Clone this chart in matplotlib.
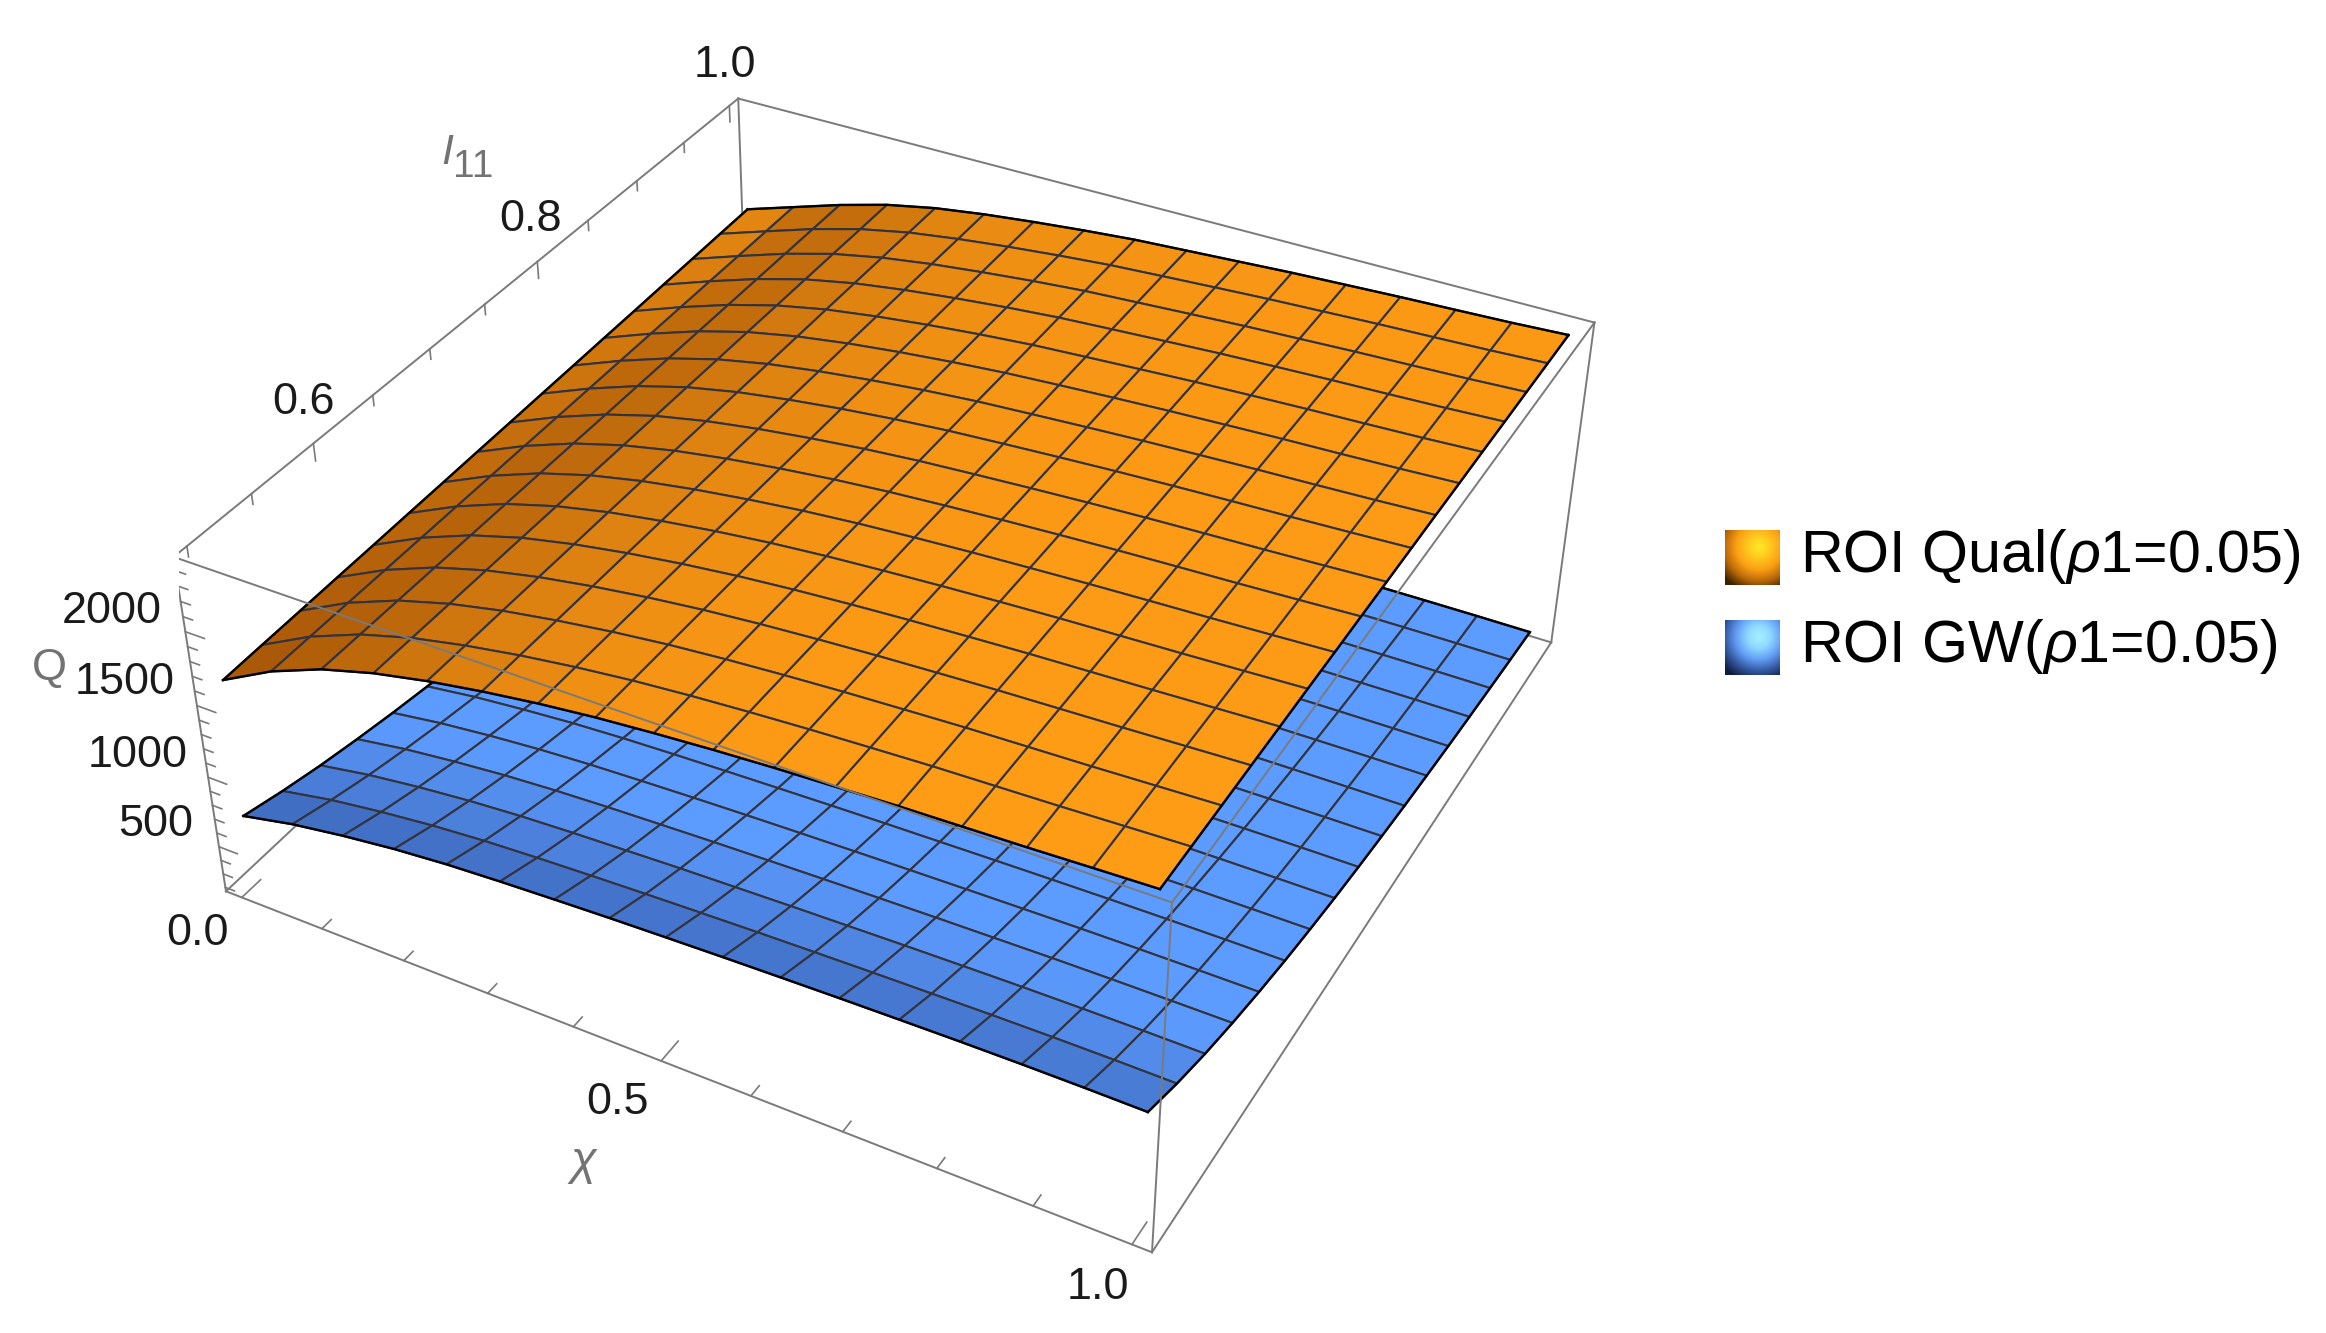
import numpy as np
import matplotlib
matplotlib.use('Agg')
import matplotlib.pyplot as plt
from matplotlib.colors import LinearSegmentedColormap
from mpl_toolkits.mplot3d import proj3d

plt.rcParams['font.family'] = ['Liberation Sans', 'DejaVu Sans']
plt.rcParams['mathtext.fontset'] = 'custom'
plt.rcParams['mathtext.rm'] = 'Liberation Sans'
plt.rcParams['mathtext.it'] = 'Liberation Sans:italic'

# Surface nodes: 17 values of chi across, 17 values of I11 down.
chi_nodes = [0, 1/16, 2/16, 3/16, 4/16, 5/16, 6/16, 7/16, 8/16, 9/16, 10/16, 11/16, 12/16, 13/16, 14/16, 15/16, 1]
i11_nodes = [0.5, 0.53125, 0.5625, 0.59375, 0.625, 0.65625, 0.6875, 0.71875, 0.75, 0.78125, 0.8125, 0.84375,
             0.875, 0.90625, 0.9375, 0.96875, 1.0]

roi_qual = [
    [1640, 1825, 1965, 2065, 2140, 2200, 2250, 2290, 2320, 2345, 2365, 2380, 2395, 2405, 2415, 2428, 2440],
    [1648, 1828, 1966, 2066, 2140, 2200, 2249, 2289, 2319, 2343, 2363, 2379, 2394, 2404, 2414, 2427, 2440],
    [1655, 1831, 1967, 2066, 2141, 2199, 2248, 2288, 2318, 2342, 2362, 2378, 2393, 2403, 2413, 2426, 2439],
    [1663, 1833, 1968, 2067, 2141, 2199, 2247, 2286, 2316, 2340, 2360, 2376, 2391, 2402, 2413, 2426, 2439],
    [1670, 1836, 1969, 2068, 2141, 2199, 2246, 2285, 2315, 2339, 2359, 2375, 2390, 2401, 2412, 2425, 2438],
    [1678, 1839, 1970, 2068, 2142, 2198, 2245, 2284, 2314, 2337, 2357, 2374, 2389, 2400, 2411, 2424, 2438],
    [1685, 1842, 1971, 2069, 2142, 2198, 2244, 2283, 2313, 2336, 2356, 2372, 2387, 2399, 2410, 2423, 2437],
    [1693, 1845, 1972, 2069, 2142, 2198, 2243, 2281, 2311, 2334, 2354, 2371, 2386, 2398, 2409, 2422, 2437],
    [1700, 1847, 1972, 2070, 2142, 2197, 2242, 2280, 2310, 2332, 2352, 2370, 2385, 2397, 2408, 2421, 2436],
    [1708, 1850, 1973, 2071, 2143, 2197, 2242, 2279, 2309, 2331, 2351, 2369, 2384, 2397, 2408, 2421, 2436],
    [1715, 1853, 1974, 2071, 2143, 2197, 2241, 2278, 2308, 2329, 2349, 2367, 2382, 2396, 2407, 2420, 2436],
    [1723, 1856, 1975, 2072, 2143, 2197, 2240, 2276, 2306, 2328, 2348, 2366, 2381, 2395, 2406, 2419, 2435],
    [1730, 1859, 1976, 2072, 2144, 2196, 2239, 2275, 2305, 2326, 2346, 2365, 2380, 2394, 2405, 2418, 2435],
    [1738, 1862, 1977, 2073, 2144, 2196, 2238, 2274, 2304, 2325, 2345, 2364, 2379, 2393, 2404, 2417, 2434],
    [1745, 1864, 1978, 2074, 2144, 2196, 2237, 2273, 2303, 2323, 2343, 2362, 2377, 2392, 2404, 2417, 2434],
    [1753, 1867, 1979, 2074, 2145, 2195, 2236, 2271, 2301, 2322, 2342, 2361, 2376, 2391, 2403, 2416, 2433],
    [1760, 1870, 1980, 2075, 2145, 2195, 2235, 2270, 2300, 2320, 2340, 2360, 2375, 2390, 2402, 2415, 2433],
]

roi_gw = [
    [686, 764, 820, 865, 897, 918, 935, 950, 962, 973, 982, 990, 996, 1001, 1003, 1002, 998],
    [615, 685, 735, 775, 804, 823, 838, 851, 862, 872, 880, 887, 892, 897, 899, 898, 894],
    [554, 617, 663, 699, 725, 742, 755, 768, 777, 786, 793, 800, 805, 809, 810, 810, 806],
    [503, 560, 601, 634, 657, 673, 685, 696, 705, 713, 720, 726, 730, 734, 735, 734, 732],
    [458, 510, 548, 578, 599, 613, 625, 635, 643, 650, 656, 661, 665, 669, 670, 669, 667],
    [419, 467, 501, 529, 548, 561, 571, 580, 588, 595, 600, 605, 609, 612, 613, 612, 610],
    [386, 429, 461, 486, 504, 516, 525, 534, 541, 547, 552, 556, 560, 563, 564, 563, 561],
    [355, 396, 425, 448, 465, 476, 484, 492, 498, 504, 509, 513, 516, 519, 520, 519, 517],
    [329, 367, 394, 415, 431, 441, 449, 456, 462, 467, 471, 475, 478, 480, 481, 481, 479],
    [306, 341, 366, 386, 400, 409, 417, 424, 429, 434, 438, 442, 444, 446, 447, 447, 445],
    [285, 317, 340, 359, 372, 381, 388, 394, 399, 404, 408, 411, 413, 415, 416, 416, 414],
    [266, 296, 318, 336, 348, 356, 363, 369, 373, 378, 381, 384, 386, 388, 389, 389, 387],
    [249, 277, 298, 314, 326, 333, 339, 345, 349, 353, 356, 359, 362, 363, 364, 364, 362],
    [234, 261, 280, 295, 306, 313, 319, 324, 328, 332, 335, 338, 340, 341, 342, 342, 340],
    [220, 245, 263, 278, 288, 295, 300, 305, 309, 312, 315, 318, 320, 321, 322, 322, 320],
    [207, 231, 248, 261, 271, 277, 282, 287, 291, 294, 297, 299, 301, 302, 303, 303, 301],
    [196, 218, 234, 247, 256, 262, 266, 271, 274, 277, 280, 282, 284, 285, 286, 286, 284],
]

chi_ticks = [0.0, 0.1, 0.2, 0.3, 0.4, 0.5, 0.6, 0.7, 0.8, 0.9, 1.0]
chi_major = [0.0, 0.5, 1.0]
i11_ticks = [0.5, 0.55, 0.6, 0.65, 0.7, 0.75, 0.8, 0.85, 0.9, 0.95, 1.0]
i11_major = [0.6, 0.8, 1.0]
q_ticks = list(range(200, 2500, 100))
q_major = [500, 1000, 1500, 2000]
legend_labels = [r'ROI Qual($\rho$1=0.05)', r'ROI GW($\rho$1=0.05)']

x0, x1 = -0.02, 1.02
y0, y1 = 0.49, 1.01
z0, z1 = 171, 2490

W, H = 2326, 1333
fig = plt.figure(figsize=(W / 100, H / 100), dpi=100)
ax = fig.add_axes([179.2 / W, -10.2 / H, 1441.1 / W, 1441.1 / H], projection='3d')
ax.computed_zorder = False
ax.set_xlim(x0, x1)
ax.set_ylim(y0, y1)
ax.set_zlim(z0, z1)
ax.view_init(elev=36.2216, azim=-61.6123)
ax.set_proj_type('persp', focal_length=0.4434)
ax.set_box_aspect((1, 1.0015, 0.4014))
ax.set_axis_off()

X, Y = np.meshgrid(chi_nodes, i11_nodes)
Q1 = np.array(roi_qual, float)
Q2 = np.array(roi_gw, float)

# Cell colours, fading between a dark and a bright tone like the lit surface.
orange_front = [0.02, 0.10, 0.24, 0.44, 0.60, 0.72, 0.82, 0.90, 0.94, 0.97, 0.98, 1, 1, 1, 1, 1, 1]
orange_back = [0.72, 0.36, 0.32, 0.50, 0.66, 0.76, 0.82, 0.86, 0.88, 0.90, 0.92, 0.94, 0.95, 0.95, 0.95, 0.95, 0.95]
orange_dark = np.array([168, 88, 8]) / 255
orange_bright = np.array([255, 156, 22]) / 255
blue_dark = np.array([62, 106, 190]) / 255
blue_bright = np.array([92, 155, 255]) / 255

t = np.linspace(0, 1, 17)
s1 = np.outer(1 - t, orange_front) + np.outer(t, orange_back)
s2 = np.clip(0.08 + 0.30 * X + 5.0 * t[:, None] * (1 - 0.45 * t[:, None]), 0, 1)
colors1 = orange_dark + s1[..., None] * (orange_bright - orange_dark)
colors2 = blue_dark + s2[..., None] * (blue_bright - blue_dark)

mesh_color = (0.2, 0.2, 0.24)
ax.plot_surface(X, Y, Q2, rstride=1, cstride=1, facecolors=colors2, shade=False,
                edgecolor=mesh_color, linewidth=1.5, zorder=2)
ax.plot_surface(X, Y, Q1, rstride=1, cstride=1, facecolors=colors1, shade=False,
                edgecolor=mesh_color, linewidth=1.5, zorder=4)

# Black outlines of the two surfaces.
for Q, zo in ((Q2, 3), (Q1, 5)):
    ax.plot(X[0], Y[0], Q[0], color='black', lw=1.7, zorder=zo)
    ax.plot(X[-1], Y[-1], Q[-1], color='black', lw=1.7, zorder=zo)
    ax.plot(X[:, 0], Y[:, 0], Q[:, 0], color='black', lw=1.7, zorder=zo)
    ax.plot(X[:, -1], Y[:, -1], Q[:, -1], color='black', lw=1.7, zorder=zo)

# Box edges: the back ones go under the surfaces, the front ones over them.
box_color = (0.48, 0.48, 0.48)
back_edges = [((x0, y0, z1), (x0, y1, z1)), ((x0, y1, z1), (x1, y1, z1)), ((x1, y1, z1), (x1, y1, z0)),
              ((x0, y1, z1), (x0, y1, z0)), ((x0, y1, z0), (x1, y1, z0)), ((x0, y0, z0), (x0, y1, z0)),
              ((x1, y0, z0), (x1, y1, z0))]
front_edges = [((x0, y0, z1), (x1, y0, z1)), ((x1, y0, z1), (x1, y1, z1)), ((x1, y0, z1), (x1, y0, z0)),
               ((x0, y0, z1), (x0, y0, z0)), ((x0, y0, z0), (x1, y0, z0))]
for a, b in back_edges:
    ax.plot(*zip(a, b), color=box_color, lw=1.4, zorder=1)
for a, b in front_edges:
    ax.plot(*zip(a, b), color=box_color, lw=1.4, zorder=6)

# Tick marks.
for v in chi_ticks:
    d = 0.03 if v in chi_major else 0.015
    ax.plot([v, v], [y0, y0 + d * (y1 - y0)], [z0, z0], color=box_color, lw=1.2, zorder=6)
for v in i11_ticks:
    d = 0.05 if v in i11_major else 0.03
    ax.plot([x0, x0], [v, v], [z1, z1 - d * (z1 - z0)], color=box_color, lw=1.2, zorder=1)
for v in q_ticks:
    d = 0.022 if v in q_major else 0.011
    ax.plot([x0, x0 + d * (x1 - x0)], [y0, y0], [v, v], color=box_color, lw=1.2, zorder=6)

M = ax.get_proj()


def tick_label(x, y, z, text, dx, dy):
    # Project the tick into the axes, then shift the label by dx, dy pixels.
    xp, yp, _ = proj3d.proj_transform(x, y, z, M)
    ax.annotate(text, xy=(xp, yp), xytext=(dx * 0.72, dy * 0.72), textcoords='offset points',
                ha='center', va='center', fontsize=32.4, color=(0.1, 0.1, 0.1), zorder=7)


for v, s, dx, dy in zip(chi_major, ['0.0', '0.5', '1.0'], [-44, -44, -34], [-36, -42, -43]):
    tick_label(v, y0, z0, s, dx, dy)
for v, s, dx, dy in zip(i11_major, ['0.6', '0.8', '1.0'], [-10, -7, -4], [41, 42.5, 40.5]):
    tick_label(x0, v, z1, s, dx, dy)
for v, s, dx, dy in zip(q_major, ['500', '1000', '1500', '2000'], [-63, -71, -72, -74], [22, 22, 23, 20]):
    tick_label(x0, y0, v, s, dx, dy)

# Axis titles.
title_color = (0.45, 0.45, 0.45)
fig.text(49 / W, 1 - 669 / H, 'Q', fontsize=32.4, color=title_color, ha='center', va='center')
fig.text(583 / W, 1 - 1164 / H, r'$\chi$', fontsize=34, color=title_color, ha='center', va='center')
fig.text(447 / W, 1 - 153 / H, 'I', fontsize=31, style='italic', color=title_color, ha='center', va='center')
fig.text(473 / W, 1 - 167 / H, '11', fontsize=28, color=title_color, ha='center', va='center')

# Legend swatches with a round highlight.
gy, gx = np.mgrid[0:1:64j, 0:1:64j]
glow = np.clip(np.hypot(gx - 0.62, gy - 0.30) / 0.85, 0, 1)
swatches = [(530, ['#ffe92a', '#ffc81e', '#fb9f14', '#b9680a', '#3c2200']),
            (620, ['#a6f2ff', '#8fd8ff', '#629df5', '#33589f', '#0e1c40'])]
for (top, cols), label in zip(swatches, legend_labels):
    sw = fig.add_axes([1725 / W, 1 - (top + 55) / H, 55 / W, 55 / H])
    sw.imshow(glow, cmap=LinearSegmentedColormap.from_list('glow', cols), vmin=0, vmax=1, aspect='auto')
    sw.axis('off')
    fig.text(1800 / W, 1 - (top + 26) / H, label, fontsize=42.6, color='black', ha='left', va='center')

fig.savefig('out.png', dpi=100)
